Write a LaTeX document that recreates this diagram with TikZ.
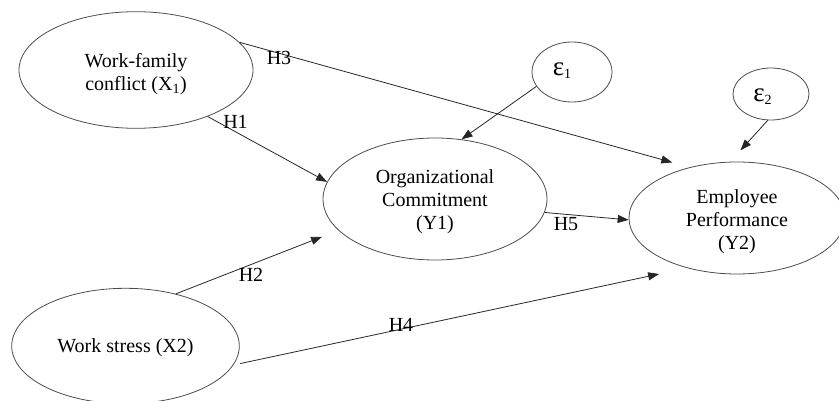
\documentclass[tikz,border=0pt]{standalone}
\usepackage{fontspec}
\setmainfont{Liberation Serif}
\usetikzlibrary{shapes.geometric,arrows.meta}
\begin{document}
\begin{tikzpicture}[x=1pt,y=-1pt,
  construct/.style={ellipse,draw=black!70,line width=0.8pt,inner sep=0pt},
  ctext/.style={align=center,inner sep=0pt,font=\fontsize{20}{23}\selectfont},
  errterm/.style={ellipse,draw=black!70,line width=0.8pt,inner sep=0pt},
  etext/.style={inner sep=0pt},
  path/.style={draw=black!85,line width=0.8pt,-{Triangle[length=11pt,width=8pt]}},
  hyp/.style={inner sep=0pt,font=\fontsize{20}{23}\selectfont}]
\useasboundingbox (0,0) rectangle (839,401);

% latent constructs
\node[construct,minimum width=234pt,minimum height=116.6pt,
  label={[ctext,yshift=-4pt]center:Work-family\\conflict (X\textsubscript{1})}] (wfc) at (136,70) {};
\node[construct,minimum width=227.6pt,minimum height=115.4pt,
  label={[ctext,yshift=-1.7pt]center:Work stress (X2)}] (ws) at (125.5,346) {};
\node[construct,minimum width=224pt,minimum height=122pt,
  label={[ctext,yshift=-3pt]center:Organizational\\Commitment\\(Y1)}] (oc) at (435,199) {};
\node[construct,minimum width=216pt,minimum height=112pt,
  label={[ctext,yshift=-4pt]center:Employee\\Performance\\(Y2)}] (ep) at (737,218) {};

% error terms
\node[errterm,minimum width=80pt,minimum height=60pt,
  label={[etext,xshift=-10pt,yshift=1.5pt]center:{\fontsize{27}{27}\selectfont ε}{\fontsize{14}{14}\selectfont\raisebox{-3pt}{1}}}] (e1) at (572,72) {};
\node[errterm,minimum width=76pt,minimum height=52pt,
  label={[etext,xshift=-8.5pt,yshift=-3pt]center:{\fontsize{27}{27}\selectfont ε}{\fontsize{14}{14}\selectfont\raisebox{-3pt}{2}}}] (e2) at (771,94) {};

% structural paths
\draw[path,shorten >=18pt] (wfc.15.4) -- (ep.133.5);
\draw[path] (wfc.-33.1) -- (oc.171.2);
\draw[path,shorten >=17.5pt] (ws.46.8) -- (oc.198.4);
\draw[path,shorten <=7pt,shorten >=28.5pt] (ws.-10.3) -- (ep.225.4);
\draw[path] (oc.-7.4) -- (ep.181.1);
\draw[path] (e1.202.3) -- (oc.66.5);
\draw[path,shorten >=15.4pt] (e2.263.4) -- (ep.97.5);

% hypothesis labels
\node[hyp] (h1) at (235.5,122) {H1};
\node[hyp] (h2) at (251,275) {H2};
\node[hyp] (h3) at (279,58) {H3};
\node[hyp] (h4) at (401,324.5) {H4};
\node[hyp] (h5) at (566,223.7) {H5};
\end{tikzpicture}
\end{document}
